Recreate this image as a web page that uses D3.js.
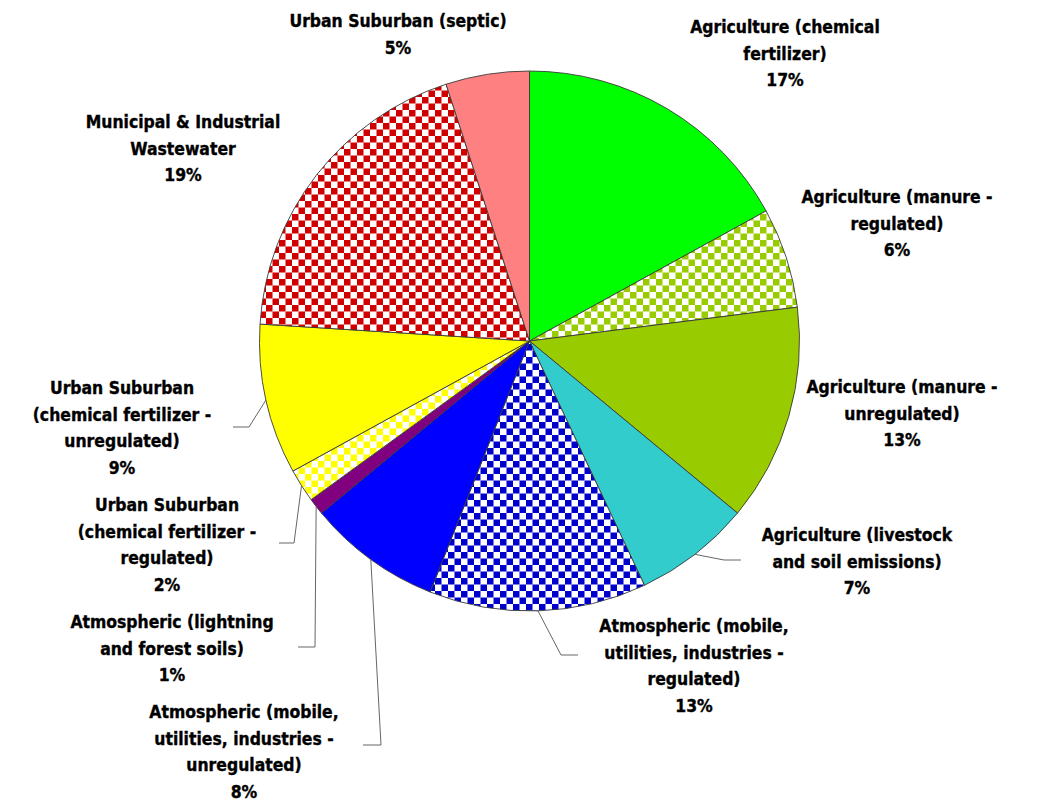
<!DOCTYPE html>
<html>
<head>
<meta charset="utf-8">
<script src="https://cdn.jsdelivr.net/npm/d3@7"></script>
<style>
  html, body { margin: 0; padding: 0; background: #fff; }
  svg { display: block; }
  .lbl { font-family: "DejaVu Sans Condensed", "DejaVu Sans", sans-serif; font-weight: bold; font-size: 17.4px;
         fill: #000; stroke: #000; stroke-width: 0.35px; }
</style>
</head>
<body>
<svg id="chart" width="1044" height="803"></svg>
<script>
// Nitrogen load sources, percent share of total (clockwise from 12 o'clock)
const categories = [
  "Agriculture (chemical fertilizer)",
  "Agriculture (manure - regulated)",
  "Agriculture (manure - unregulated)",
  "Agriculture (livestock and soil emissions)",
  "Atmospheric (mobile, utilities, industries - regulated)",
  "Atmospheric (mobile, utilities, industries - unregulated)",
  "Atmospheric (lightning and forest soils)",
  "Urban Suburban (chemical fertilizer - regulated)",
  "Urban Suburban (chemical fertilizer - unregulated)",
  "Municipal & Industrial Wastewater",
  "Urban Suburban (septic)"
];
const shares = [17, 6, 13, 7, 13, 8, 1, 2, 9, 19, 5];

// Label text, split into lines as printed
const labelLines = [
  ["Agriculture (chemical", "fertilizer)"],
  ["Agriculture (manure -", "regulated)"],
  ["Agriculture (manure -", "unregulated)"],
  ["Agriculture (livestock", "and soil emissions)"],
  ["Atmospheric (mobile,", "utilities, industries -", "regulated)"],
  ["Atmospheric (mobile,", "utilities, industries -", "unregulated)"],
  ["Atmospheric (lightning", "and forest soils)"],
  ["Urban Suburban", "(chemical fertilizer -", "regulated)"],
  ["Urban Suburban", "(chemical fertilizer -", "unregulated)"],
  ["Municipal & Industrial", "Wastewater"],
  ["Urban Suburban (septic)"]
];

// Slice styling: base colour and whether it is drawn as a checkerboard
const sliceColors = ["#00ff00", "#99cc00", "#99cc00", "#33cccc", "#0000cc", "#0000ff",
                     "#800080", "#ffff00", "#ffff00", "#d00000", "#ff8080"];
const sliceChecked = [false, true, false, false, true, false, false, true, false, true, false];

// Label placement: centre x, first baseline y, optional leader (text end, elbow)
const labelLayout = [
  { x: 785, y: 33 },
  { x: 897, y: 203 },
  { x: 902, y: 393 },
  { x: 857, y: 541, lead: [[741, 560], [724, 560]] },
  { x: 694, y: 632, lead: [[578, 655], [561, 655]] },
  { x: 244, y: 718, lead: [[363, 745], [381, 745]] },
  { x: 172, y: 628, lead: [[298, 647], [315, 647]] },
  { x: 167, y: 511, lead: [[279, 543], [294, 543]] },
  { x: 122, y: 394, lead: [[233, 427], [249, 427]] },
  { x: 183, y: 128 },
  { x: 398, y: 27 }
];

const cx = 529.5, cy = 341, radius = 270;
const lineH = 26.5;

const svg = d3.select("#chart");
const defs = svg.append("defs");

// checkerboard fills
const cell = 6.5;
sliceColors.forEach((c, i) => {
  if (!sliceChecked[i]) return;
  const p = defs.append("pattern")
    .attr("id", "chk" + i)
    .attr("patternUnits", "userSpaceOnUse")
    .attr("width", cell * 2).attr("height", cell * 2)
    .attr("x", cx).attr("y", cy);
  p.append("rect").attr("width", cell * 2).attr("height", cell * 2).attr("fill", "#fff");
  p.append("rect").attr("width", cell).attr("height", cell).attr("fill", c);
  p.append("rect").attr("x", cell).attr("y", cell).attr("width", cell).attr("height", cell).attr("fill", c);
});

const data = categories.map((name, i) => ({ name, value: shares[i], i }));
const pie = d3.pie().sort(null).value(d => d.value).startAngle(0).endAngle(2 * Math.PI);
const arcs = pie(data);
const arc = d3.arc().innerRadius(0).outerRadius(radius);

const g = svg.append("g").attr("transform", `translate(${cx},${cy})`);
g.selectAll("path.slice")
  .data(arcs)
  .join("path")
  .attr("class", "slice")
  .attr("d", arc)
  .attr("fill", d => sliceChecked[d.data.i] ? `url(#chk${d.data.i})` : sliceColors[d.data.i])
  .attr("stroke", "#3a3a3a")
  .attr("stroke-width", 0.9)
  .attr("stroke-linejoin", "round");

// point on the rim at the middle of a slice, in page coordinates
function rimPoint(d) {
  const a = (d.startAngle + d.endAngle) / 2;
  return [cx + radius * Math.sin(a), cy - radius * Math.cos(a)];
}

// leader lines
const leaderLine = d3.line();
arcs.forEach(d => {
  const L = labelLayout[d.data.i];
  if (!L.lead) return;
  svg.append("path")
    .attr("d", leaderLine([L.lead[0], L.lead[1], rimPoint(d)]))
    .attr("fill", "none")
    .attr("stroke", "#666")
    .attr("stroke-width", 1);
});

// labels: category lines then the percentage
const fmtPct = d3.format(".0%");
arcs.forEach(d => {
  const i = d.data.i;
  const L = labelLayout[i];
  const lines = labelLines[i].concat([fmtPct(shares[i] / 100)]);
  const t = svg.append("text").attr("class", "lbl").attr("text-anchor", "middle");
  lines.forEach((s, k) => {
    t.append("tspan").attr("x", L.x).attr("y", L.y + k * lineH).text(s);
  });
});
</script>
</body>
</html>
